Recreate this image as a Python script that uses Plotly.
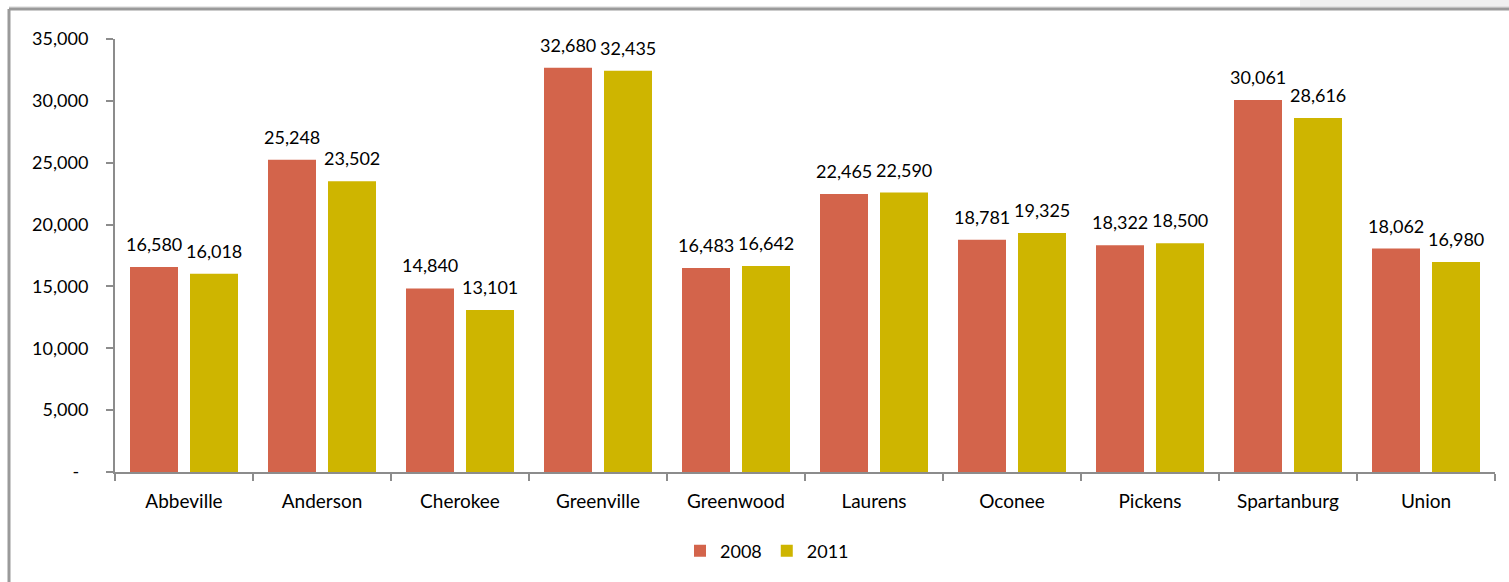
import plotly.graph_objects as go

# County values for the two survey years
counties = ["Abbeville", "Anderson", "Cherokee", "Greenville", "Greenwood",
            "Laurens", "Oconee", "Pickens", "Spartanburg", "Union"]
values_2008 = [16580, 25248, 14840, 32680, 16483, 22465, 18781, 18322, 30061, 18062]
values_2011 = [16018, 23502, 13101, 32435, 16642, 22590, 19325, 18500, 28616, 16980]
series_names = ["2008", "2011"]
y_ticks = [0, 5000, 10000, 15000, 20000, 25000, 30000, 35000]
y_tick_text = ["-\u00a0\u00a0"] + [f"{v:,}" for v in y_ticks[1:]]

COLOR_2008 = "#D3644B"
COLOR_2011 = "#CEB500"
AXIS_GRAY = "#8C8C8C"
BORDER_GRAY = "#9A9A9A"
FONT = "Lato, Calibri, Carlito, sans-serif"

W, H = 1509, 582
ML, MR, MT, MB = 115, 14, 39, 110
PW, PH = W - ML - MR, H - MT - MB


def px_x(p):
    return (p - ML) / PW


def px_y(p):
    return (H - MB - p) / PH


fig = go.Figure()
bar_width = 48 / 138
offsets = [-54 / 138, 6 / 138]
for name, vals, color, off in zip(series_names, [values_2008, values_2011],
                                  [COLOR_2008, COLOR_2011], offsets):
    fig.add_trace(go.Bar(
        x=counties, y=vals, name=name,
        marker=dict(color=color, line=dict(width=0)),
        width=bar_width, offset=off,
    ))

# value labels above each bar
annotations = []
for vals, shift in [(values_2008, -30), (values_2011, 30)]:
    for c, v in zip(counties, vals):
        annotations.append(dict(
            x=c, y=v, xref="x", yref="y", text=f"{v:,}", showarrow=False,
            xshift=shift, yshift=10, yanchor="bottom", xanchor="center",
            font=dict(family=FONT, size=18, color="#000000"),
        ))

shapes = [
    # outer chart frame (left and top edges)
    dict(type="rect", xref="paper", yref="paper", x0=px_x(1300), x1=px_x(W),
         y0=px_y(7), y1=px_y(0), fillcolor="#F0F0F0", line=dict(width=0), layer="below"),
    dict(type="line", xref="paper", yref="paper", x0=px_x(9), x1=px_x(W),
         y0=px_y(7), y1=px_y(7), line=dict(color="#D4D4D4", width=1)),
    dict(type="line", xref="paper", yref="paper", x0=px_x(9), x1=px_x(W),
         y0=px_y(9), y1=px_y(9), line=dict(color=BORDER_GRAY, width=3)),
    dict(type="line", xref="paper", yref="paper", x0=px_x(9), x1=px_x(9),
         y0=px_y(9), y1=px_y(H), line=dict(color=BORDER_GRAY, width=3)),
]

fig.update_layout(
    width=W, height=H,
    margin=dict(l=ML, r=MR, t=MT, b=MB, autoexpand=False),
    paper_bgcolor="white", plot_bgcolor="white",
    font=dict(family=FONT, size=18, color="#000000"),
    barmode="group",
    showlegend=True,
    legend=dict(orientation="h", x=px_x(767), xanchor="center",
                y=px_y(551), yanchor="middle",
                font=dict(family=FONT, size=18, color="#000000"),
                itemwidth=30, traceorder="normal"),
    annotations=annotations,
    shapes=shapes,
    xaxis=dict(
        type="category", showgrid=False, showline=True, linecolor=AXIS_GRAY,
        linewidth=2, ticks="outside", tickson="boundaries", ticklen=7,
        tickcolor=AXIS_GRAY, tickwidth=2, ticklabelstandoff=11,
        tickfont=dict(family=FONT, size=19, color="#000000"),
        range=[-0.5, len(counties) - 0.5],
    ),
    yaxis=dict(
        range=[0, 35000], tickvals=y_ticks, ticktext=y_tick_text,
        showgrid=False, showline=True, linecolor=AXIS_GRAY, linewidth=2,
        ticks="outside", ticklen=7, tickcolor=AXIS_GRAY, tickwidth=2,
        ticklabelstandoff=14, zeroline=False,
    ),
)

fig.write_html("out.html")
